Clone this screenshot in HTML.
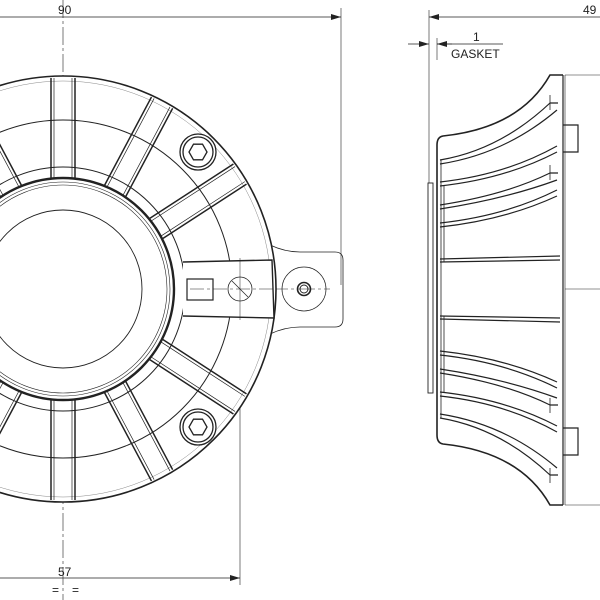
<!DOCTYPE html>
<html><head><meta charset="utf-8"><style>
html,body{margin:0;padding:0;background:#fff;width:600px;height:600px;overflow:hidden}
svg{display:block}
text{font-family:"Liberation Sans",sans-serif;font-size:12px;fill:#222}
</style></head><body>
<svg width="600" height="600" viewBox="0 0 600 600" xmlns="http://www.w3.org/2000/svg">
<defs>
<marker id="ar" viewBox="0 0 10 6" refX="10" refY="3" markerWidth="10" markerHeight="6" orient="auto-start-reverse" markerUnits="userSpaceOnUse"><path d="M0,0 L10,3 L0,6 z" fill="#222"/></marker>
<g id="rib">
<line x1="174" y1="277" x2="274" y2="277"/><line x1="174" y1="301" x2="274" y2="301"/>
<line x1="174" y1="280" x2="274" y2="280" stroke-width="0.7"/><line x1="174" y1="298" x2="274" y2="298" stroke-width="0.7"/>
</g>
<g id="bolt">
<circle r="18" fill="#fff"/><circle r="15"/><polygon points="9,0 4.5,7.8 -4.5,7.8 -9,0 -4.5,-7.8 4.5,-7.8"/>
</g>
<g id="rr">
<path d="M440 160 Q500 150 550 103 L558 103"/>
<path d="M440 164 Q505 154 557 110"/>
<path d="M440 182 Q505 175 557 146"/>
<path d="M440 186 Q505 179 557 152"/>
<path d="M440 205 Q505 195 550 173 L558 173"/>
<path d="M440 209 Q505 199 557 180"/>
<path d="M440 223 Q505 216 557 190"/>
<path d="M440 227 Q505 220 557 196"/>
<path d="M440 259 L560 256"/>
<path d="M440 262 L560 260"/>
</g>
</defs>
<g fill="none" stroke="#222" stroke-width="1">
<line x1="0" y1="17" x2="341" y2="17" stroke-width="0.7" marker-end="url(#ar)"/>
<line x1="341" y1="8" x2="341" y2="285" stroke-width="0.6"/>
<line x1="0" y1="578" x2="240" y2="578" stroke-width="0.7" marker-end="url(#ar)"/>
<line x1="240" y1="258" x2="240" y2="585" stroke-width="0.6"/>
<line x1="63" y1="0" x2="63" y2="600" stroke-width="0.6" stroke-dasharray="18,3,3,3"/>
<line x1="0" y1="289" x2="330" y2="289" stroke-width="0.6" stroke-dasharray="18,3,3,3"/>
<path d="M270 245 Q285 252 300 252 L335 252 Q343 252 343 260 L343 319 Q343 327 335 327 L300 327 Q285 327 270 334" stroke-width="0.8"/>
<circle cx="304" cy="289" r="22" stroke-width="0.7"/>
<circle cx="304" cy="289" r="6.5" stroke-width="1.6"/><circle cx="304" cy="289" r="4"/>
<circle cx="63" cy="289" r="213" stroke-width="1.6" fill="#fff"/>
<circle cx="63" cy="289" r="208" stroke-width="0.5" stroke="#888"/>
<circle cx="63" cy="289" r="169" stroke-width="1"/>
<circle cx="63" cy="289" r="122" stroke-width="1"/>
<circle cx="63" cy="289" r="111" stroke-width="2.4" fill="#fff"/>
<circle cx="63" cy="289" r="107" stroke-width="0.6"/>
<circle cx="63" cy="289" r="104" stroke-width="0.6"/>
<circle cx="63" cy="289" r="79" stroke-width="0.9"/>
<g stroke-width="1.5">
<use href="#rib" transform="rotate(-90 63 289)"/>
<use href="#rib" transform="rotate(-62 63 289)"/>
<use href="#rib" transform="rotate(-33 63 289)"/>
<use href="#rib" transform="rotate(33 63 289)"/>
<use href="#rib" transform="rotate(62 63 289)"/>
<use href="#rib" transform="rotate(90 63 289)"/>
<use href="#rib" transform="rotate(118 63 289)"/>
<use href="#rib" transform="rotate(-118 63 289)"/>
<use href="#rib" transform="rotate(147 63 289)"/>
<use href="#rib" transform="rotate(-147 63 289)"/>
</g>
<path d="M183 262 L272 260 L274 318 L183 316" fill="#fff" stroke-width="1.4"/>
<rect x="187" y="279" width="26" height="21" stroke-width="1.2"/>
<circle cx="240" cy="289" r="12" stroke-width="0.8"/>
<line x1="232" y1="281" x2="248" y2="297" stroke-width="0.7"/>
<line x1="240" y1="258" x2="240" y2="320" stroke-width="0.5"/>
<line x1="190" y1="289" x2="275" y2="289" stroke-width="0.5" stroke-dasharray="14,3,3,3"/>
<use href="#bolt" transform="translate(198 152)" stroke-width="1.3"/>
<use href="#bolt" transform="translate(198 427)" stroke-width="1.3"/>

<line x1="429" y1="17" x2="600" y2="17" stroke-width="0.7" marker-start="url(#ar)"/>
<line x1="429" y1="10" x2="429" y2="183" stroke-width="0.6"/>
<line x1="437" y1="38" x2="437" y2="60" stroke-width="0.6"/>
<line x1="408" y1="44" x2="429" y2="44" stroke-width="0.7" marker-end="url(#ar)"/>
<line x1="437" y1="44" x2="503" y2="44" stroke-width="0.7"/>
<line x1="437" y1="44" x2="452" y2="44" stroke-width="0.7" marker-start="url(#ar)"/>
<line x1="565" y1="75" x2="600" y2="75" stroke-width="0.6"/>
<line x1="565" y1="289" x2="600" y2="289" stroke-width="0.6"/>
<line x1="565" y1="505" x2="600" y2="505" stroke-width="0.6"/>
<rect x="428" y="183" width="5" height="210" stroke-width="0.9"/>
<path d="M563 75 L550 75 Q520 128 443 136 Q437 137 437 145 L437 435 Q437 443 443 444 Q520 452 550 505 L563 505" stroke-width="1.6"/>
<line x1="563" y1="75" x2="563" y2="505" stroke-width="1.2"/>
<line x1="565" y1="75" x2="565" y2="505" stroke-width="0.6"/>
<path d="M563 125 L578 125 L578 152 L563 152 M563 428 L578 428 L578 455 L563 455" stroke-width="1.2"/>
<g stroke-width="1.2">
<use href="#rr"/>
<use href="#rr" transform="matrix(1 0 0 -1 0 578)"/>
</g>
<g stroke-width="0.8">
<line x1="441" y1="160" x2="441" y2="418"/>
<line x1="444" y1="185" x2="444" y2="262"/><line x1="444" y1="316" x2="444" y2="393"/>
<line x1="550" y1="95" x2="550" y2="110"/><line x1="550" y1="468" x2="550" y2="483"/>
<line x1="550" y1="165" x2="550" y2="180"/><line x1="550" y1="398" x2="550" y2="413"/>
</g>
</g>
<text x="58" y="14">90</text>
<text x="58" y="576">57</text>
<text x="52" y="594">=</text><text x="72" y="594">=</text>
<text x="583" y="14">49</text>
<text x="473" y="41">1</text>
<text x="451" y="58">GASKET</text>
</svg>
</body></html>
